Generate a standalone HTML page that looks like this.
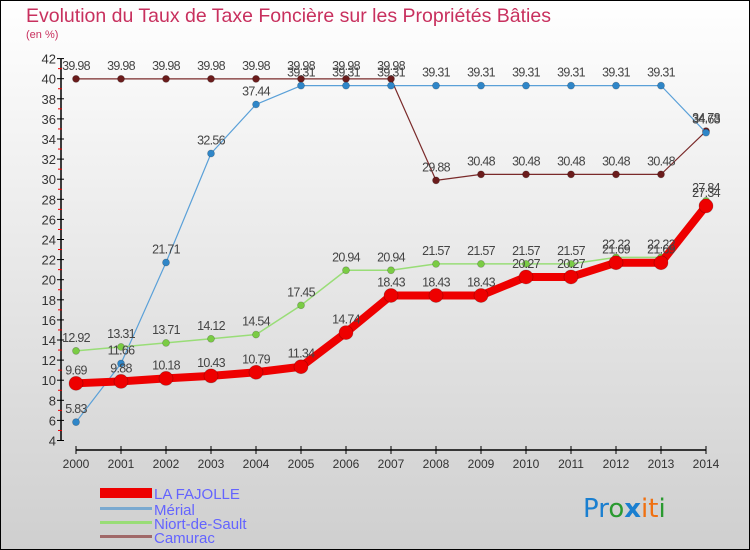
<!DOCTYPE html>
<html><head><meta charset="utf-8"><style>
body{margin:0;width:750px;height:550px;overflow:hidden}
svg{display:block;font-family:"Liberation Sans",sans-serif}
</style></head><body>
<svg id="c" width="750" height="550" xmlns="http://www.w3.org/2000/svg">
<defs><linearGradient id="bg" x1="0" y1="0" x2="0" y2="1"><stop offset="0" stop-color="#ffffff"/><stop offset="1" stop-color="#cfcfcf"/></linearGradient></defs>
<rect x="0.5" y="0.5" width="749" height="549" fill="url(#bg)" stroke="#000"/>
<text x="26" y="22" font-size="19.5" fill="#c8305e">Evolution du Taux de Taxe Foncière sur les Propriétés Bâties</text>
<text x="26" y="38" font-size="11" fill="#c8305e">(en %)</text>
<g id="axes"></g><g id="series"></g><g id="labels"></g>
<g>
<rect x="100" y="488" width="52" height="10" fill="#e00"/>
<text x="154" y="499" font-size="15" fill="#6464ff">LA FAJOLLE</text>
<rect x="100" y="507" width="52" height="3" fill="#7aa9d0"/>
<text x="154" y="515" font-size="15" fill="#6464ff">Mérial</text>
<rect x="100" y="521" width="52" height="3" fill="#99dd77"/>
<text x="154" y="529" font-size="15" fill="#6464ff">Niort-de-Sault</text>
<rect x="100" y="535" width="52" height="3" fill="#a06868"/>
<text x="154" y="543" font-size="15" fill="#6464ff">Camurac</text>
</g>
<g font-size="26" font-family="'DejaVu Sans',sans-serif">
<text x="583" y="517"><tspan fill="#1a7fd0">Pr</tspan><tspan fill="#2a9a30">o</tspan><tspan fill="#1a7fd0" font-weight="bold">x</tspan><tspan fill="#f07010">it</tspan><tspan fill="#2a9a30">i</tspan></text>
</g>
</svg>
<script>
const years=[2000,2001,2002,2003,2004,2005,2006,2007,2008,2009,2010,2011,2012,2013,2014];
const fajolle=[9.69,9.88,10.18,10.43,10.79,11.34,14.74,18.43,18.43,18.43,20.27,20.27,21.69,21.69,27.34];
const merial=[5.83,11.66,21.71,32.56,37.44,39.31,39.31,39.31,39.31,39.31,39.31,39.31,39.31,39.31,34.63];
const niort=[12.92,13.31,13.71,14.12,14.54,17.45,20.94,20.94,21.57,21.57,21.57,21.57,22.22,22.22,27.84];
const camurac=[39.98,39.98,39.98,39.98,39.98,39.98,39.98,39.98,29.88,30.48,30.48,30.48,30.48,30.48,34.78];
const yTicks=[4,6,8,10,12,14,16,18,20,22,24,26,28,30,32,34,36,38,40,42];
const NS="http://www.w3.org/2000/svg";
const X=i=>76+i*45;
const Y=v=>440.5-(v-4)*10.05;
function mk(t,a,p){const e=document.createElementNS(NS,t);for(const k in a)e.setAttribute(k,a[k]);p.appendChild(e);return e;}
const ax=document.getElementById('axes');
const yl=mk('line',{x1:61,y1:Y(42),x2:61,y2:Y(4),stroke:'#000','stroke-width':1.5},ax);


const xl=mk('line',{x1:76,y1:450,x2:X(14),y2:450,stroke:'#000','stroke-width':1.5},ax);


yTicks.forEach(v=>{
  mk('line',{x1:57,y1:Y(v),x2:64,y2:Y(v),stroke:'#000'},ax);
  if(v<42)mk('line',{x1:58,y1:Y(v+1),x2:62,y2:Y(v+1),stroke:'#e00'},ax);
  const t=mk('text',{x:56,y:Y(v)+5,'text-anchor':'end','font-size':13,fill:'#333'},ax);
  t.textContent=v;
  
  
});
years.forEach((yr,i)=>{
  mk('line',{x1:X(i),y1:446,x2:X(i),y2:454,stroke:'#000'},ax);
  const t=mk('text',{x:X(i),y:468,'text-anchor':'middle','font-size':12,fill:'#333'},ax);
  t.textContent=yr;
  
  
});
const sg=document.getElementById('series'),lg=document.getElementById('labels');
function series(name,vals,color,dot,w,r){
  const g=mk('g',{},sg);
  
  
  const pl=mk('polyline',{points:vals.map((v,i)=>X(i)+','+Y(v)).join(' '),fill:'none',stroke:color,'stroke-width':w,'stroke-linejoin':'round'},g);
  
  
  vals.forEach((v,i)=>{
    const c=mk('circle',{cx:X(i),cy:Y(v),r:r,fill:dot,stroke:'rgba(0,0,0,0.25)','stroke-width':0.7},g);
    
    
    const t=mk('text',{x:X(i),y:Y(v)-9,'text-anchor':'middle','font-size':12.5,fill:'#444','letter-spacing':'-0.7'},lg);
    t.textContent=v.toFixed(2);
    
    
  });
}
series('camurac',camurac,'#7a2a2a','#6b1c1c',1.2,3.5);
series('merial',merial,'#5aa0d8','#2f86c8',1.2,3.5);
series('niort',niort,'#99dd77','#7acc44',1.5,3.5);
series('la-fajolle',fajolle,'#ee0000','#ee0000',8,7);
</script>
</body></html>
